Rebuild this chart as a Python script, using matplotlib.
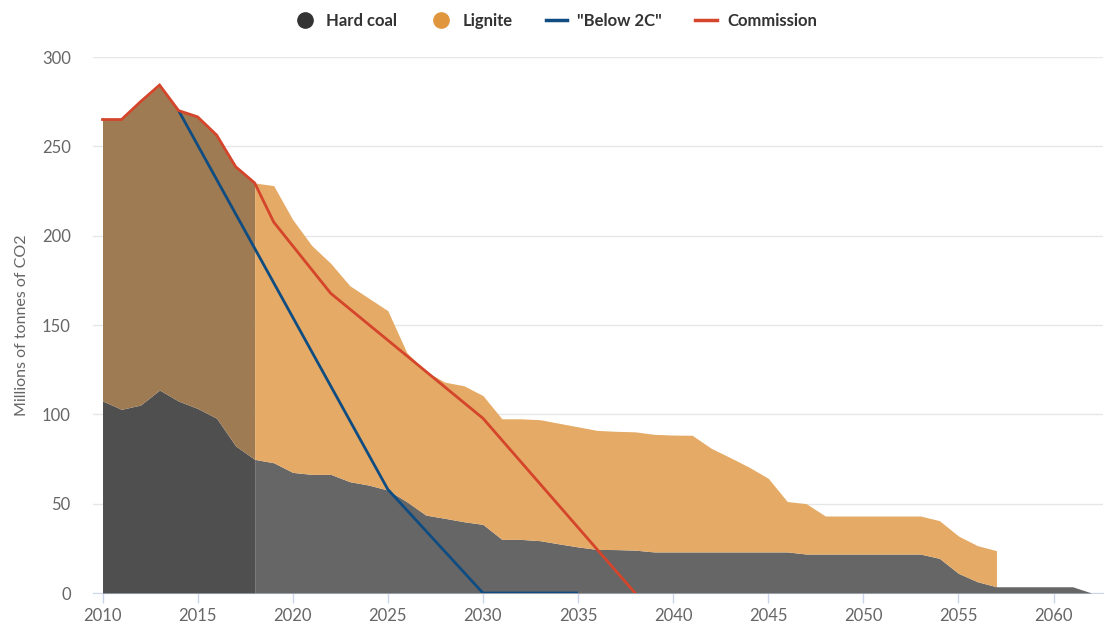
import numpy as np
import matplotlib
matplotlib.use("Agg")
import matplotlib.pyplot as plt
from matplotlib.lines import Line2D

plt.rcParams['font.family'] = ['Lato', 'DejaVu Sans']

years = np.arange(2010, 2063)
hard_coal = [107.5, 102.8, 105.2, 113.6, 107.4, 103.3, 97.8, 82.3, 74.8, 72.9,
             67.5, 66.4, 66.4, 62.3, 60.4, 57.6, 51.1, 43.6, 41.8, 39.9,
             38.4, 30.0, 30.0, 29.3, 27.5, 25.8, 24.4, 24.3, 24.0, 23.0,
             23.0, 23.0, 23.0, 23.0, 23.0, 23.0, 23.0, 21.8, 21.8, 21.8,
             21.8, 21.8, 21.8, 21.8, 19.4, 11.0, 6.3, 3.5, 3.5, 3.5,
             3.5, 3.5, 0.0]
lignite = [157.5, 162.2, 169.8, 170.4, 162.6, 163.2, 158.5, 156.3, 154.7, 155.1,
           141.5, 128.1, 118.1, 109.7, 104.6, 100.4, 83.4, 80.4, 76.2, 76.1,
           72.1, 67.5, 67.5, 67.7, 67.5, 67.2, 66.6, 66.2, 66.2, 65.8,
           65.4, 65.3, 58.0, 52.8, 47.4, 41.2, 28.2, 28.2, 21.3, 21.3,
           21.3, 21.3, 21.3, 21.3, 21.1, 20.9, 20.2, 20.2, np.nan, np.nan,
           np.nan, np.nan, np.nan]

below2c_years = [2014, 2025, 2030, 2035]
below2c = [270.0, 58.0, 0.0, 0.0]

commission_years = [2010, 2011, 2012, 2013, 2014, 2015, 2016, 2017, 2018, 2019,
                    2022, 2030, 2038]
commission = [265.0, 265.0, 275.0, 284.3, 270.0, 266.5, 256.3, 238.6, 229.5, 207.6,
              167.7, 97.8, 0.0]

history_end = 2018
x_ticks = [2010, 2015, 2020, 2025, 2030, 2035, 2040, 2045, 2050, 2055, 2060]
y_ticks = [0, 50, 100, 150, 200, 250, 300]

series_names = ["Hard coal", "Lignite", '"Below 2C"', "Commission"]

coal_col = "#666666"
coal_hist = "#4f4f4f"
lig_col = "#e5aa65"
lig_hist = "#9e7b52"
blue = "#0f4c81"
red = "#d4452b"

fig = plt.figure(figsize=(11.05, 6.26), dpi=100)
ax = fig.add_axes([93 / 1105, 33 / 626, 1010 / 1105, 536 / 626])

hc = np.array(hard_coal)
lg = np.array(lignite)
total = hc + lg
hist = years <= history_end
fut = years >= history_end
has_lig = ~np.isnan(lg)

ax.fill_between(years, 0, hc, where=hist, color=coal_hist, lw=0, zorder=2)
ax.fill_between(years, 0, hc, where=fut, color=coal_col, lw=0, zorder=2)
ax.fill_between(years, hc, np.where(has_lig, total, hc), where=hist & has_lig,
                color=lig_hist, lw=0, zorder=2)
ax.fill_between(years, hc, np.where(has_lig, total, hc), where=fut & has_lig,
                color=lig_col, lw=0, zorder=2)

ax.plot(below2c_years, below2c, color=blue, lw=2.0, zorder=4, solid_capstyle='butt')
ax.plot(commission_years, commission, color=red, lw=2.0, zorder=5, solid_joinstyle='miter')

ax.set_xlim(2009.5, 2062.6)
ax.set_ylim(0, 300)
ax.set_xticks(x_ticks)
ax.set_yticks(y_ticks)
ax.grid(axis='y', color='#e6e6e6', lw=1, zorder=0)
ax.set_axisbelow(True)
for s in ['top', 'right', 'left']:
    ax.spines[s].set_visible(False)
ax.spines['bottom'].set_color('#ccd6eb')
ax.spines['bottom'].set_zorder(1)
ax.tick_params(axis='x', colors='#ccd6eb', length=7, width=1, labelcolor='#666666',
               labelsize=12, pad=4)
ax.tick_params(axis='y', length=0, labelcolor='#666666', labelsize=12, pad=16)
ax.set_ylabel("Millions of tonnes of CO2", color='#666666', fontsize=11.5)
ax.yaxis.set_label_coords((29 - 93) / 1010, 0.5)

handles = [
    Line2D([], [], marker='o', ls='none', color='#333333', markersize=11),
    Line2D([], [], marker='o', ls='none', color='#e0963c', markersize=11),
    Line2D([], [], color=blue, lw=2.5),
    Line2D([], [], color=red, lw=2.5),
]
leg = fig.legend(handles, series_names, loc='center', bbox_to_anchor=(0.503, 0.967),
                 ncol=4, frameon=False, handlelength=1.3, columnspacing=2.0,
                 handletextpad=0.6, prop={'weight': 'bold', 'size': 12})
for t in leg.get_texts():
    t.set_color('#333333')

fig.savefig("out.png", dpi=100)
